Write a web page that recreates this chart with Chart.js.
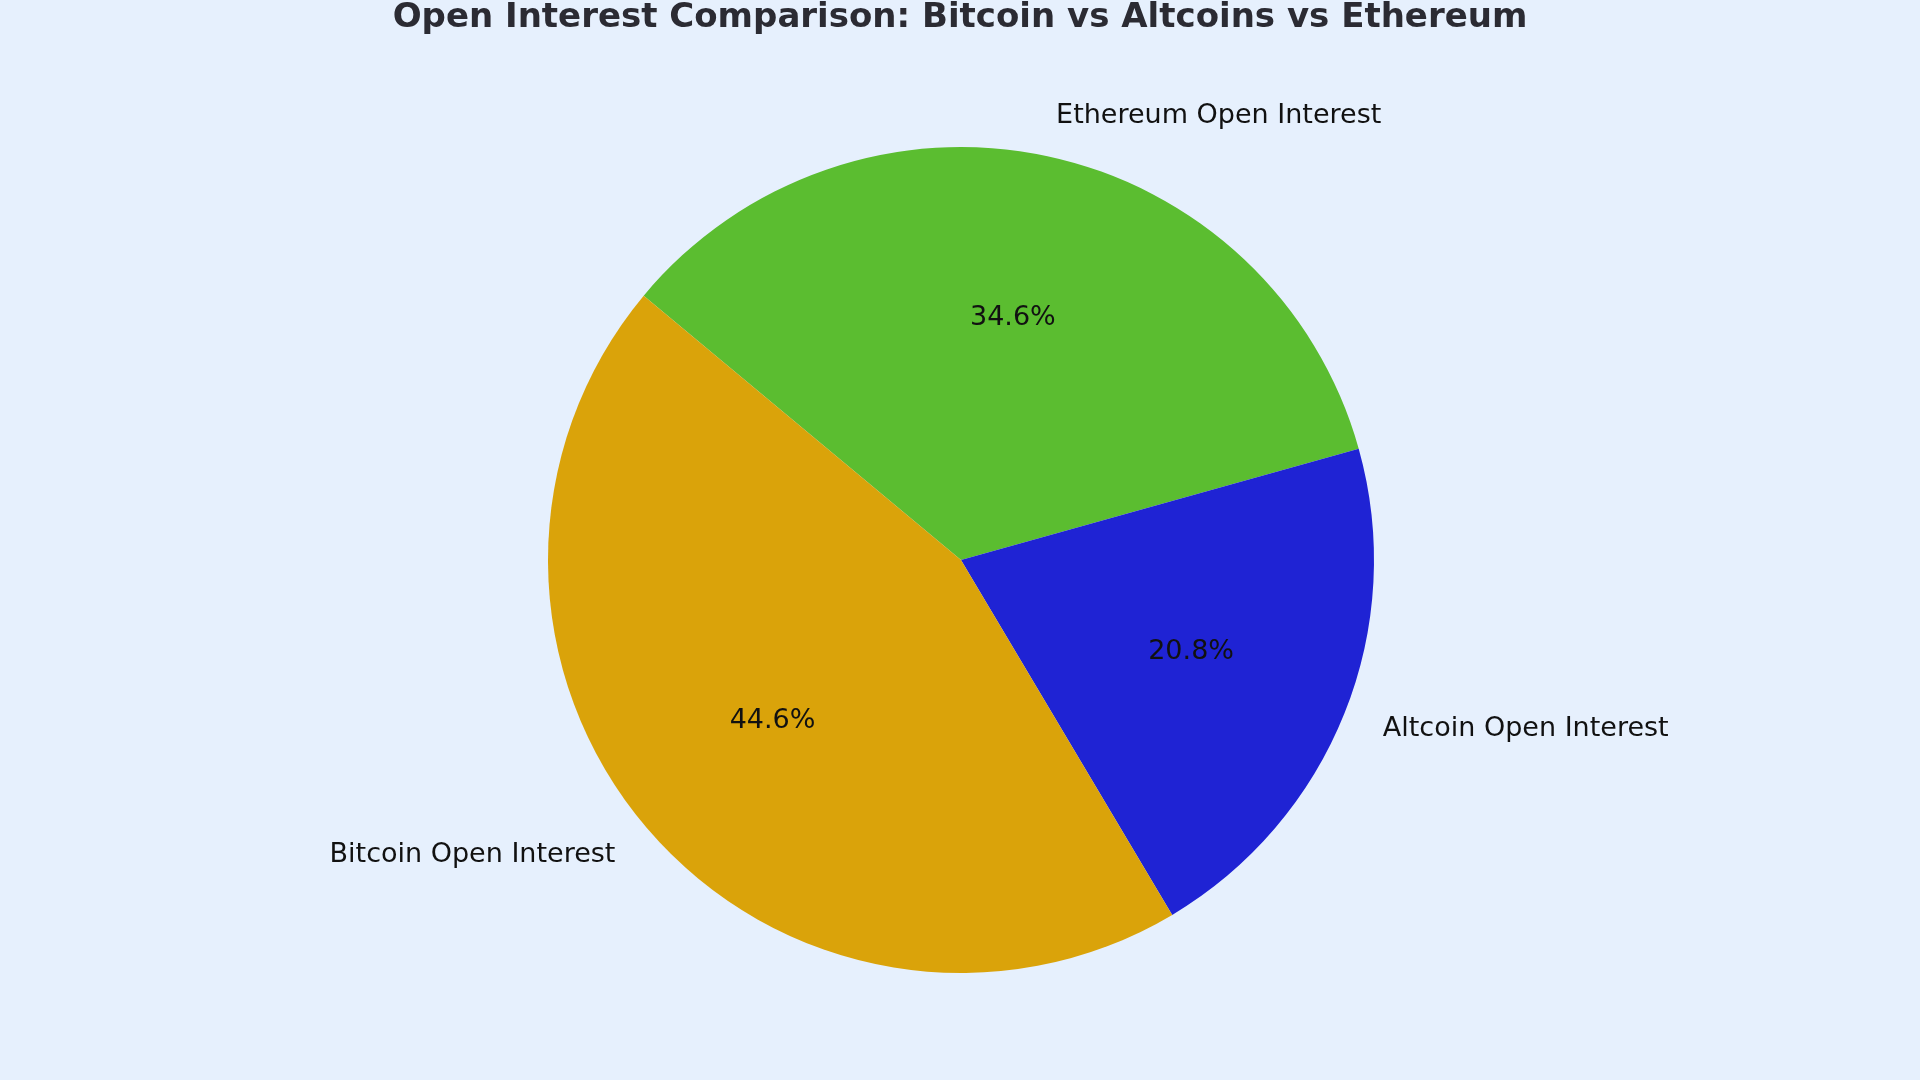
<!DOCTYPE html>
<html>
<head>
<meta charset="utf-8">
<script src="https://cdn.jsdelivr.net/npm/chart.js@4/dist/chart.umd.min.js"></script>
<style>
html, body { margin: 0; padding: 0; background: #E6F0FD; }
#wrap { width: 1920px; height: 1080px; }
</style>
</head>
<body>
<div id="wrap"><canvas id="pie"></canvas></div>
<script>
const labels = ['Ethereum Open Interest', 'Altcoin Open Interest', 'Bitcoin Open Interest'];
const values = [34.6, 20.8, 44.6];
const colors = ['#5BBD30', '#1F23D4', '#DAA30A'];
const titleText = 'Open Interest Comparison: Bitcoin vs Altcoins vs Ethereum';

// draws the title, outside labels and percentages the way matplotlib places them
const pieText = {
  id: 'pieText',
  afterDraw(chart) {
    const ctx = chart.ctx;
    ctx.save();
    ctx.fillStyle = '#2b2b33';
    ctx.font = 'bold 34px "DejaVu Sans"';
    ctx.textAlign = 'center';
    ctx.textBaseline = 'middle';
    ctx.fillText(titleText, 960, 18);

    const total = values.reduce((a, b) => a + b, 0);
    chart.getDatasetMeta(0).data.forEach((arc, i) => {
      const mid = (arc.startAngle + arc.endAngle) / 2;
      const r = arc.outerRadius;
      const lx = arc.x + Math.cos(mid) * r * 1.1;
      const ly = arc.y + Math.sin(mid) * r * 1.1;
      ctx.font = '27px "DejaVu Sans"';
      ctx.fillStyle = '#111';
      ctx.textAlign = lx > arc.x ? 'left' : 'right';
      ctx.fillText(labels[i], lx, ly);
      const px = arc.x + Math.cos(mid) * r * 0.6;
      const py = arc.y + Math.sin(mid) * r * 0.6;
      ctx.textAlign = 'center';
      ctx.fillText((values[i] / total * 100).toFixed(1) + '%', px, py);
    });
    ctx.restore();
  }
};

new Chart(document.getElementById('pie'), {
  type: 'pie',
  data: {
    labels: labels,
    datasets: [{ data: values, backgroundColor: colors, borderWidth: 0 }]
  },
  options: {
    responsive: true,
    maintainAspectRatio: false,
    animation: false,
    rotation: -50.2,
    layout: { padding: { top: 147, bottom: 107, left: 2, right: 0 } },
    plugins: { legend: { display: false }, tooltip: { enabled: false } }
  },
  plugins: [pieText]
});
</script>
</body>
</html>
